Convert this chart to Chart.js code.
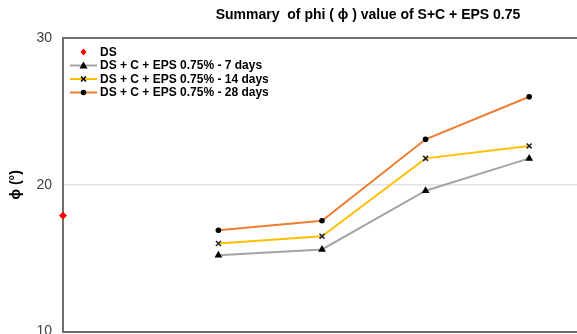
<!DOCTYPE html>
<html>
<head>
<meta charset="utf-8">
<script src="https://cdn.jsdelivr.net/npm/chart.js@4"></script>
<style>
  html, body { margin: 0; padding: 0; background: #fff; overflow: hidden; }
  #wrap { width: 577px; height: 334px; overflow: hidden; position: relative; }
</style>
</head>
<body>
<div id="wrap"><canvas id="phiChart" width="590" height="351"></canvas></div>
<script>
const seriesLabels = ['DS + C + EPS 0.75% - 7 days', 'DS + C + EPS 0.75% - 14 days', 'DS + C + EPS 0.75% - 28 days'];
const seriesX = [1.5, 2.5, 3.5, 4.5];
const phi7 = [15.2, 15.6, 19.6, 21.8];
const phi14 = [16.0, 16.5, 21.8, 22.65];
const phi28 = [16.9, 17.55, 23.1, 26.0];
const dsX = [0];
const dsPhi = [17.9];
const yTicks = [10, 20, 30];

const toPoints = (xs, ys) => xs.map((x, i) => ({ x: x, y: ys[i] }));

// legend drawn by hand: line + marker like the spreadsheet legend
const legendPlugin = {
    id: 'sheetLegend',
    afterDraw(chart) {
        const c = chart.ctx;
        const rows = [
            { text: 'DS', line: null, marker: 'diamond', mcolor: '#ff0000' },
            { text: seriesLabels[0], line: '#a5a5a5', marker: 'triangle', mcolor: '#000' },
            { text: seriesLabels[1], line: '#ffc000', marker: 'cross', mcolor: '#000' },
            { text: seriesLabels[2], line: '#ed7d31', marker: 'circle', mcolor: '#000' }
        ];
        c.save();
        c.font = 'bold 12px "Liberation Sans", Arial, sans-serif';
        c.textBaseline = 'middle';
        rows.forEach((r, i) => {
            const y = 52 + i * 13.5;
            if (r.line) {
                c.strokeStyle = r.line;
                c.lineWidth = 2;
                c.beginPath();
                c.moveTo(70, y);
                c.lineTo(97, y);
                c.stroke();
            }
            drawMarker(c, r.marker, 83.5, y, r.mcolor);
            c.fillStyle = '#000';
            c.fillText(r.text, 100, y + 0.5);
        });
        // chart title
        c.font = 'bold 14px "Liberation Sans", Arial, sans-serif';
        c.textAlign = 'center';
        c.fillStyle = '#000';
        c.fillText('Summary  of phi ( \u03D5 ) value of S+C + EPS 0.75', 368, 15);
        c.restore();
    }
};

function drawMarker(c, kind, x, y, color) {
    c.fillStyle = color;
    c.strokeStyle = color;
    c.beginPath();
    if (kind === 'diamond') {
        c.moveTo(x, y - 3.5); c.lineTo(x + 3, y); c.lineTo(x, y + 3.5); c.lineTo(x - 3, y);
        c.closePath(); c.fill();
    } else if (kind === 'triangle') {
        c.moveTo(x, y - 4); c.lineTo(x + 4, y + 3); c.lineTo(x - 4, y + 3);
        c.closePath(); c.fill();
    } else if (kind === 'cross') {
        c.lineWidth = 1.5;
        c.moveTo(x - 2.5, y - 2.5); c.lineTo(x + 2.5, y + 2.5);
        c.moveTo(x + 2.5, y - 2.5); c.lineTo(x - 2.5, y + 2.5);
        c.stroke();
    } else {
        c.arc(x, y, 2.7, 0, Math.PI * 2); c.fill();
    }
}

const ctx = document.getElementById('phiChart').getContext('2d');
const chart = new Chart(ctx, {
    type: 'line',
    data: {
        datasets: [{
            label: 'DS',
            data: toPoints(dsX, dsPhi),
            showLine: false,
            pointStyle: 'rectRot',
            pointRadius: 3.5,
            backgroundColor: '#ff0000',
            borderColor: '#ff0000',
            clip: false
        }, {
            label: seriesLabels[0],
            data: toPoints(seriesX, phi7),
            borderColor: '#a5a5a5',
            borderWidth: 2,
            pointStyle: 'triangle',
            pointRadius: 4.5,
            pointBackgroundColor: '#000',
            pointBorderColor: '#000',
            pointBorderWidth: 0
        }, {
            label: seriesLabels[1],
            data: toPoints(seriesX, phi14),
            borderColor: '#ffc000',
            borderWidth: 2,
            pointStyle: 'crossRot',
            pointRadius: 3.5,
            pointBorderColor: '#222',
            pointBorderWidth: 1.5
        }, {
            label: seriesLabels[2],
            data: toPoints(seriesX, phi28),
            borderColor: '#ed7d31',
            borderWidth: 2,
            pointStyle: 'circle',
            pointRadius: 2.8,
            pointBackgroundColor: '#000',
            pointBorderColor: '#000',
            pointBorderWidth: 0
        }]
    },
    options: {
        responsive: false,
        animation: false,
        layout: { padding: { top: 38, right: 9, left: 0, bottom: 0 } },
        plugins: {
            legend: { display: false },
            tooltip: { enabled: false }
        },
        scales: {
            x: {
                type: 'linear',
                min: 0,
                max: 5,
                ticks: { display: false },
                grid: { display: false, drawTicks: false },
                border: { color: '#6e6e6e', width: 2 },
                afterFit: (s) => { s.height = 9; }
            },
            y: {
                min: 10,
                max: 30,
                afterBuildTicks: (s) => { s.ticks = yTicks.map(v => ({ value: v })); },
                ticks: {
                    color: '#404040',
                    padding: 11,
                    font: { family: '"Liberation Sans", Arial, sans-serif', size: 14 }
                },
                grid: {
                    drawTicks: false,
                    color: (c) => c.tick && c.tick.value === 30 ? '#707070' : (c.tick && c.tick.value === 20 ? '#e3e3e3' : 'rgba(0,0,0,0)'),
                    lineWidth: (c) => c.tick && c.tick.value === 30 ? 2 : 1.5
                },
                border: { color: '#6e6e6e', width: 2 },
                title: {
                    display: true,
                    text: '\u03D5 (\u00B0)',
                    color: '#000',
                    padding: { top: 8, bottom: 0 },
                    font: { family: '"Liberation Sans", Arial, sans-serif', size: 14, weight: 'bold' }
                },
                afterFit: (s) => { s.width = 63; }
            }
        }
    },
    plugins: [legendPlugin]
});
</script>
</body>
</html>
